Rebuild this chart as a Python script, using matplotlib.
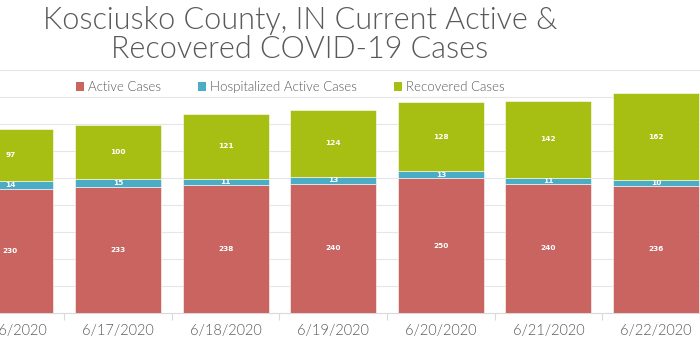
import matplotlib
matplotlib.use('Agg')
import matplotlib.pyplot as plt
from matplotlib.patches import Patch
from matplotlib import font_manager

# dati
dates = ['6/16/2020', '6/17/2020', '6/18/2020', '6/19/2020',
         '6/20/2020', '6/21/2020', '6/22/2020']
active = [230, 233, 238, 240, 250, 240, 236]
hospitalized = [14, 15, 11, 13, 13, 11, 10]
recovered = [97, 100, 121, 124, 128, 142, 162]

series_names = ['Active Cases', 'Hospitalized Active Cases', 'Recovered Cases']
colors = ['#C96461', '#4BACC6', '#A6BF12']
grey = '#595959'

# font "light" (peso 300) se c'e', altrimenti Lato normale
title_font = ['Lato', 'DejaVu Sans']
title_weight = 'normal'
for f in font_manager.fontManager.ttflist:
    if f.name in ('Open Sans', 'Lato', 'Roboto') and f.weight == 300:
        title_font = [f.name, 'DejaVu Sans']
        title_weight = 300
        break

plt.rcParams['font.family'] = ['DejaVu Sans']

fig = plt.figure(figsize=(7, 3.5), dpi=100)
# l'immagine originale e' ritagliata: l'asse esce dal bordo sinistro
ax = fig.add_axes([-0.062, 0.1057, 1.076, 0.693])

x = list(range(len(dates)))
bottom = [0] * len(dates)
for vals, col in zip([active, hospitalized, recovered], colors):
    bars = ax.bar(x, vals, width=0.8, bottom=bottom, color=col,
                  edgecolor='white', linewidth=0.4, zorder=3)
    for b, v in zip(bars, vals):
        ax.text(b.get_x() + b.get_width() / 2, b.get_y() + b.get_height() / 2,
                str(v), ha='center', va='center', color='white',
                fontsize=5.3, fontweight='bold', zorder=4)
    bottom = [a + b for a, b in zip(bottom, vals)]

ax.set_xlim(-0.5, len(dates) - 0.5)
ax.set_ylim(0, 450)
ax.set_yticks(range(50, 451, 50))
ax.yaxis.grid(True, color='#E6E6E6', linewidth=0.8, zorder=0)
ax.tick_params(axis='y', left=False, labelleft=False)

ax.set_xticks(x)
ax.set_xticklabels(dates, color=grey, fontsize=10.5, family=title_font,
                   fontweight=title_weight)
ax.tick_params(axis='x', length=0, pad=8)
ax.set_xticks([i + 0.5 for i in x[:-1]], minor=True)
ax.tick_params(axis='x', which='minor', length=5, color='#D9D9D9', width=0.8)

for s in ['top', 'right', 'left']:
    ax.spines[s].set_visible(False)
ax.spines['bottom'].set_color('#D9D9D9')

fig.text(0.4286, 0.941, 'Kosciusko County, IN Current Active &',
         ha='center', va='center', fontsize=22, color=grey,
         family=title_font, fontweight=title_weight)
fig.text(0.4286, 0.858, 'Recovered COVID-19 Cases',
         ha='center', va='center', fontsize=22, color=grey,
         family=title_font, fontweight=title_weight)

handles = [Patch(facecolor=c, edgecolor='none') for c in colors]
leg = fig.legend(handles, series_names, loc='center', ncol=3,
                 bbox_to_anchor=(0.415, 0.751), frameon=True,
                 prop={'family': title_font, 'size': 9.5,
                       'weight': title_weight},
                 handlelength=0.6, handleheight=0.6,
                 handletextpad=0.3, columnspacing=2.8, borderpad=0.2)
leg.get_frame().set_facecolor('white')
leg.get_frame().set_edgecolor('none')
for t in leg.get_texts():
    t.set_color(grey)

fig.savefig('out.png', dpi=100)
